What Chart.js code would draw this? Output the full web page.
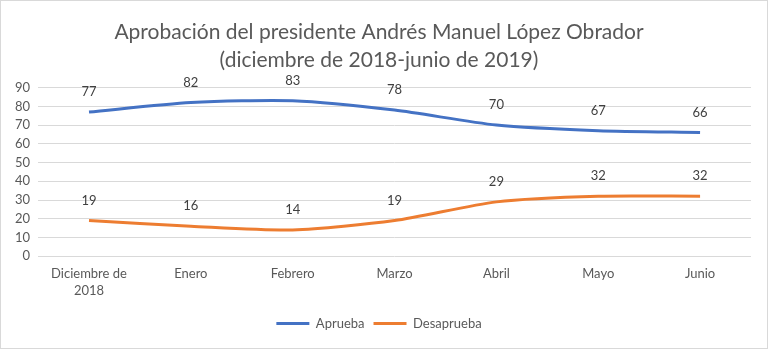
<!DOCTYPE html>
<html>
<head>
<meta charset="utf-8">
<script src="https://cdn.jsdelivr.net/npm/chart.js@4"></script>
<style>
  html, body { margin: 0; padding: 0; background: #fff; }
  .box { width: 768px; height: 349px; box-sizing: border-box; border: 1px solid #d9d9d9; position: relative; }
  canvas { display: block; }
</style>
</head>
<body>
<div class="box"><canvas id="amloChart" width="766" height="347"></canvas></div>
<script>
const months = [["Diciembre de", "2018"], "Enero", "Febrero", "Marzo", "Abril", "Mayo", "Junio"];
const aprueba = [77, 82, 83, 78, 70, 67, 66];
const desaprueba = [19, 16, 14, 19, 29, 32, 32];
const yTicks = [0, 10, 20, 30, 40, 50, 60, 70, 80, 90];

const textColor = "#595959";
const fontFamily = "Lato, 'Open Sans', sans-serif";

// draws the value over each point, like the excel labels
const pointLabels = {
  id: "pointLabels",
  afterDatasetsDraw(chart) {
    const ctx = chart.ctx;
    ctx.save();
    ctx.font = "13px " + fontFamily;
    ctx.fillStyle = "#404040";
    ctx.textAlign = "center";
    ctx.textBaseline = "middle";
    chart.data.datasets.forEach((ds, i) => {
      chart.getDatasetMeta(i).data.forEach((pt, j) => {
        ctx.fillText(ds.data[j], pt.x, pt.y - 20);
      });
    });
    ctx.restore();
  }
};

const ctx = document.getElementById("amloChart");

new Chart(ctx, {
  type: "line",
  data: {
    labels: months,
    datasets: [
      {
        label: "Aprueba",
        data: aprueba,
        borderColor: "#4472C4",
        backgroundColor: "#4472C4",
        borderWidth: 3,
        pointRadius: 0,
        tension: 0.25
      },
      {
        label: "Desaprueba",
        data: desaprueba,
        borderColor: "#ED7D31",
        backgroundColor: "#ED7D31",
        borderWidth: 3,
        pointRadius: 0,
        tension: 0.25
      }
    ]
  },
  options: {
    responsive: false,
    animation: false,
    layout: {
      padding: { left: 6, right: 16, top: 4, bottom: 8 }
    },
    plugins: {
      title: {
        display: true,
        text: ["Aprobación del presidente Andrés Manuel López Obrador", "(diciembre de 2018-junio de 2019)"],
        color: textColor,
        font: { family: fontFamily, size: 21, weight: "normal", lineHeight: 1.3 },
        padding: { top: 14, bottom: 14 }
      },
      legend: {
        position: "bottom",
        labels: {
          color: textColor,
          font: { family: fontFamily, size: 13 },
          boxWidth: 33,
          boxHeight: 3,
          padding: 9,
          generateLabels(chart) {
            return chart.data.datasets.map((ds, i) => ({
              text: ds.label,
              fillStyle: ds.borderColor,
              strokeStyle: ds.borderColor,
              lineWidth: 0,
              fontColor: textColor,
              datasetIndex: i
            }));
          }
        }
      },
      tooltip: { enabled: false }
    },
    scales: {
      x: {
        offset: true,
        grid: { display: false, drawTicks: false },
        border: { display: false },
        ticks: {
          color: textColor,
          font: { family: fontFamily, size: 13, lineHeight: 1.3 },
          maxRotation: 0,
          padding: 9
        }
      },
      y: {
        min: 0,
        max: 90,
        afterBuildTicks(axis) {
          axis.ticks = yTicks.map(v => ({ value: v }));
        },
        grid: { color: "#d9d9d9", drawTicks: false },
        border: { display: false },
        ticks: {
          color: textColor,
          font: { family: fontFamily, size: 13 },
          autoSkip: false,
          padding: 8
        }
      }
    }
  },
  plugins: [pointLabels]
});
</script>
</body>
</html>
